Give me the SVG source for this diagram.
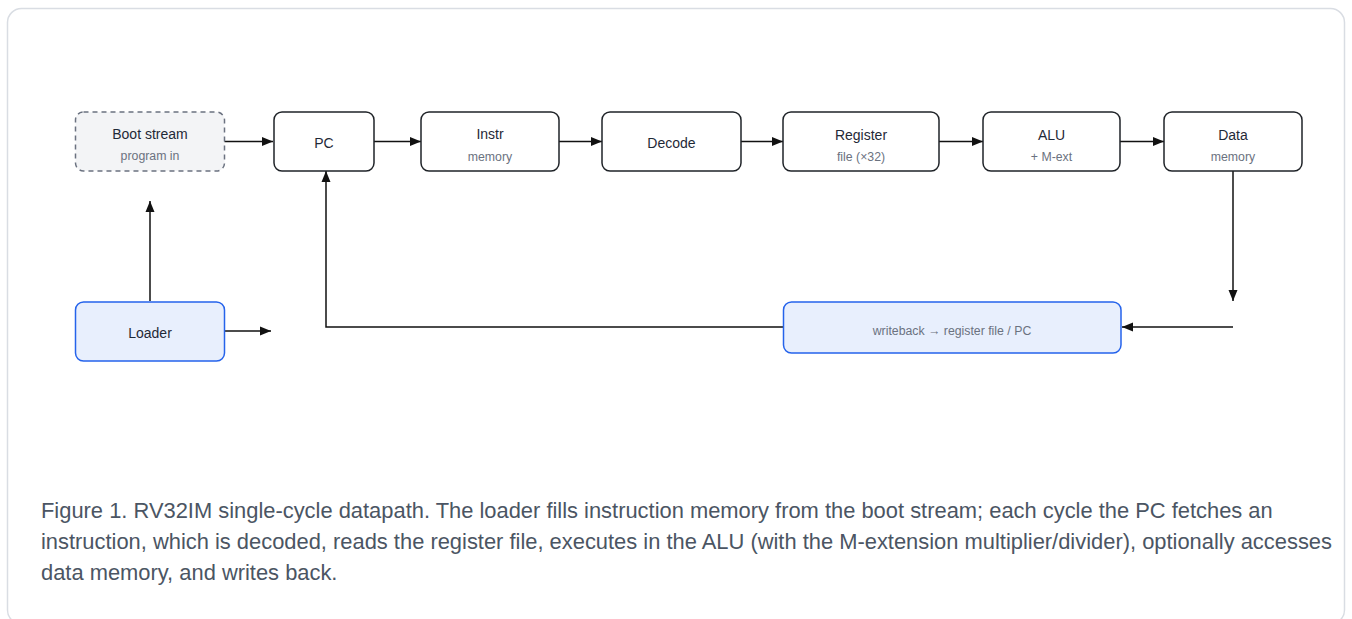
<svg xmlns="http://www.w3.org/2000/svg" width="1352" height="619" viewBox="0 0 1352 619">
<style>
.frame{fill:#ffffff;stroke:#d9dde3;stroke-width:1.5}
.box{fill:#ffffff;stroke:#1f2328;stroke-width:1.5}
.boot{fill:#f3f4f6;stroke:#6b7280;stroke-width:1.5;stroke-dasharray:5 4}
.blue{fill:#e8effd;stroke:#2563eb;stroke-width:1.5}
.t{font-family:"Liberation Sans",Arial,sans-serif;font-size:14px;fill:#1f2937;text-anchor:middle;dominant-baseline:central}
.s{font-family:"Liberation Sans",Arial,sans-serif;font-size:12.3px;fill:#6b7280;text-anchor:middle;dominant-baseline:central}
.cap{font-family:"Liberation Sans",Arial,sans-serif;font-size:21.9px;fill:#4b5563}
.c{fill:none;stroke:#111111;stroke-width:1.5;marker-end:url(#ah)}
</style>
<defs>
<marker id="ah" markerUnits="userSpaceOnUse" markerWidth="11" markerHeight="10" refX="11" refY="5" orient="auto">
<path d="M0,0.5 L11,5 L0,9.5 z" fill="#111111"/>
</marker>
</defs>
<rect class="frame" x="7.5" y="8.5" width="1337" height="615.5" rx="14"/>
<g id="connectors">
<path class="c" d="M224 141.5 H273"/>
<path class="c" d="M374 141.5 H421"/>
<path class="c" d="M559 141.5 H602"/>
<path class="c" d="M741 141.5 H783"/>
<path class="c" d="M939 141.5 H983"/>
<path class="c" d="M1120 141.5 H1164"/>
<path class="c" d="M1233 171 V301"/>
<path class="c" d="M1233 327 H1122"/>
<path class="c" d="M783 327 H326 V171"/>
<path class="c" d="M150 301 V201"/>
<path class="c" d="M224 331 H271"/>
</g>
<g id="boot">
<rect class="boot" x="75.5" y="112" width="149" height="59" rx="8"/>
<text class="t" x="150" y="134">Boot stream</text>
<text class="s" x="150" y="156">program in</text>
</g>
<g id="pc">
<rect class="box" x="274" y="112" width="100" height="59" rx="8"/>
<text class="t" x="324" y="142.5">PC</text>
</g>
<g id="instr">
<rect class="box" x="421" y="112" width="138" height="59" rx="8"/>
<text class="t" x="490" y="134">Instr</text>
<text class="s" x="490" y="157">memory</text>
</g>
<g id="decode">
<rect class="box" x="602" y="112" width="139" height="59" rx="8"/>
<text class="t" x="671.5" y="143">Decode</text>
</g>
<g id="register">
<rect class="box" x="783" y="112" width="156" height="59" rx="8"/>
<text class="t" x="861" y="135">Register</text>
<text class="s" x="861" y="157">file (×32)</text>
</g>
<g id="alu">
<rect class="box" x="983" y="112" width="137" height="59" rx="8"/>
<text class="t" x="1051.5" y="135">ALU</text>
<text class="s" x="1051.5" y="157">+ M-ext</text>
</g>
<g id="data">
<rect class="box" x="1164" y="112" width="138" height="59" rx="8"/>
<text class="t" x="1233" y="135">Data</text>
<text class="s" x="1233" y="157">memory</text>
</g>
<g id="loader">
<rect class="blue" x="75.5" y="302" width="149" height="59" rx="8"/>
<text class="t" x="150" y="333">Loader</text>
</g>
<g id="writeback">
<rect class="blue" x="783.5" y="302" width="337.5" height="51" rx="8"/>
<text class="s" x="952" y="331">writeback → register file / PC</text>
</g>
<g id="caption">
<text class="cap" x="41" y="518">Figure 1. RV32IM single-cycle datapath. The loader fills instruction memory from the boot stream; each cycle the PC fetches an</text>
<text class="cap" x="41" y="549">instruction, which is decoded, reads the register file, executes in the ALU (with the M-extension multiplier/divider), optionally accesses</text>
<text class="cap" x="41" y="580">data memory, and writes back.</text>
</g>
</svg>
